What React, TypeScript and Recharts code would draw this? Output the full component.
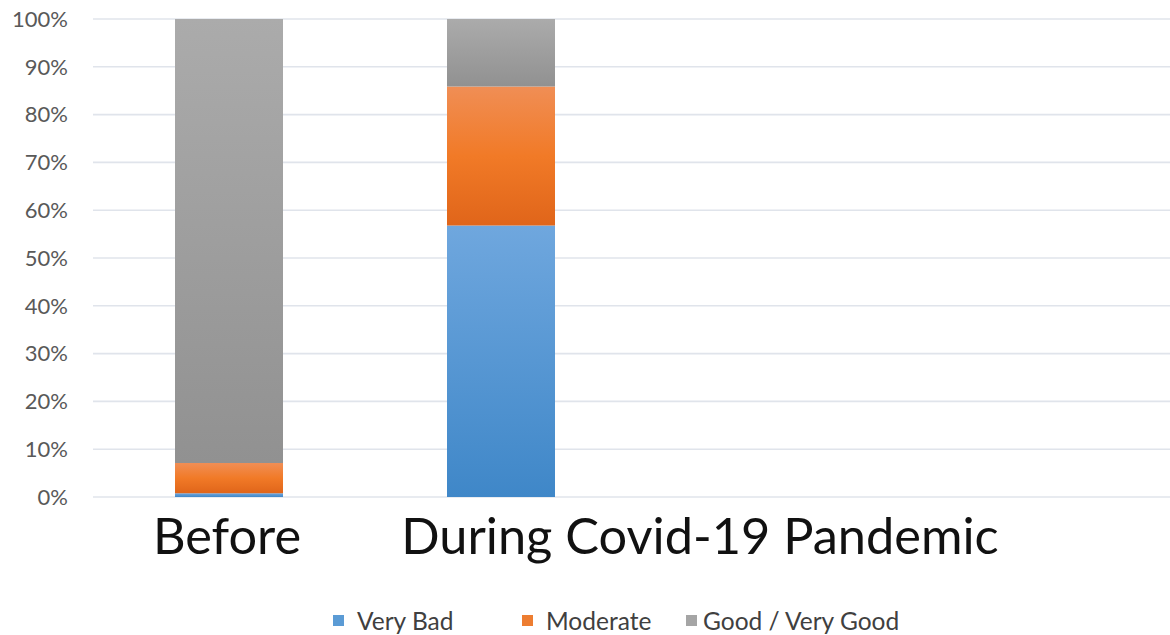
import React from "react";
import {
  BarChart,
  Bar,
  XAxis,
  YAxis,
  CartesianGrid,
  Legend,
} from "recharts";

document.body.style.margin = "0";

const categories = ["Before", "During Covid-19 Pandemic", "", ""];
const veryBad = [0.8, 56.8, null, null];
const moderate = [6.3, 29.1, null, null];
const good = [92.9, 14.1, null, null];
const yTicks = [0, 10, 20, 30, 40, 50, 60, 70, 80, 90, 100];

const SERIES = [
  { key: "veryBad", name: "Very Bad", swatch: "#5b9bd5", grad: "gBlue" },
  { key: "moderate", name: "Moderate", swatch: "#ed7d31", grad: "gOrange" },
  { key: "good", name: "Good / Very Good", swatch: "#a5a5a5", grad: "gGray" },
];

const data = categories.map((c, i) => ({
  name: c,
  veryBad: veryBad[i],
  moderate: moderate[i],
  good: good[i],
}));

const XTick = (props: any) => {
  const { x, y, payload, index } = props;
  if (!payload.value) return null;
  // Excel places the long label off-centre
  const dx = index === 1 ? 199 : -2;
  return (
    <text
      x={x + dx}
      y={y + 49}
      textAnchor="middle"
      fontFamily="Lato, 'Open Sans', sans-serif"
      fontSize={50.5}
      fill="#111"
    >
      {payload.value}
    </text>
  );
};

const LegendContent = () => (
  <div
    style={{
      position: "relative",
      height: 40,
      fontFamily: "Lato, 'Open Sans', sans-serif",
      fontSize: 24.5,
      color: "#404040",
    }}
  >
    {SERIES.map((s, i) => {
      const left = [333, 522, 686][i];
      return (
        <div
          key={s.key}
          style={{
            position: "absolute",
            left,
            top: 11,
            display: "flex",
            alignItems: "center",
            whiteSpace: "nowrap",
          }}
        >
          <span
            style={{
              display: "inline-block",
              width: 11,
              height: 11,
              background: s.swatch,
              marginRight: i === 2 ? 6 : 13,
            }}
          />
          <span>{s.name}</span>
        </div>
      );
    })}
  </div>
);

export default function App() {
  return (
    <BarChart
      width={1170}
      height={635}
      data={data}
      margin={{ top: 19, right: -11, left: 0, bottom: 0 }}
    >
      <defs>
        <linearGradient id="gBlue" x1="0" y1="0" x2="0" y2="1">
          <stop offset="0%" stopColor="#6fa7de" />
          <stop offset="100%" stopColor="#3f87c8" />
        </linearGradient>
        <linearGradient id="gOrange" x1="0" y1="0" x2="0" y2="1">
          <stop offset="0%" stopColor="#f08e55" />
          <stop offset="50%" stopColor="#f17a27" />
          <stop offset="100%" stopColor="#e0651a" />
        </linearGradient>
        <linearGradient id="gGray" x1="0" y1="0" x2="0" y2="1">
          <stop offset="0%" stopColor="#ababab" />
          <stop offset="100%" stopColor="#919191" />
        </linearGradient>
      </defs>
      <CartesianGrid
        vertical={false}
        stroke="#e0e4eb"
        strokeWidth={1.6}
      />
      <XAxis
        dataKey="name"
        axisLine={false}
        tickLine={false}
        height={98}
        tick={<XTick />}
        interval={0}
      />
      <YAxis
        width={93}
        domain={[0, 100]}
        ticks={yTicks}
        axisLine={false}
        tickLine={false}
        tickSize={0}
        tickMargin={25}
        tickFormatter={(v) => `${v}%`}
        tick={{
          fill: "#595959",
          fontSize: 22,
          fontFamily: "Lato, 'Open Sans', sans-serif",
        }}
      />
      <Legend verticalAlign="bottom" height={40} content={<LegendContent />} />
      {SERIES.map((s) => (
        <Bar
          key={s.key}
          dataKey={s.key}
          name={s.name}
          stackId="a"
          barSize={108}
          fill={`url(#${s.grad})`}
          isAnimationActive={false}
        />
      ))}
    </BarChart>
  );
}
